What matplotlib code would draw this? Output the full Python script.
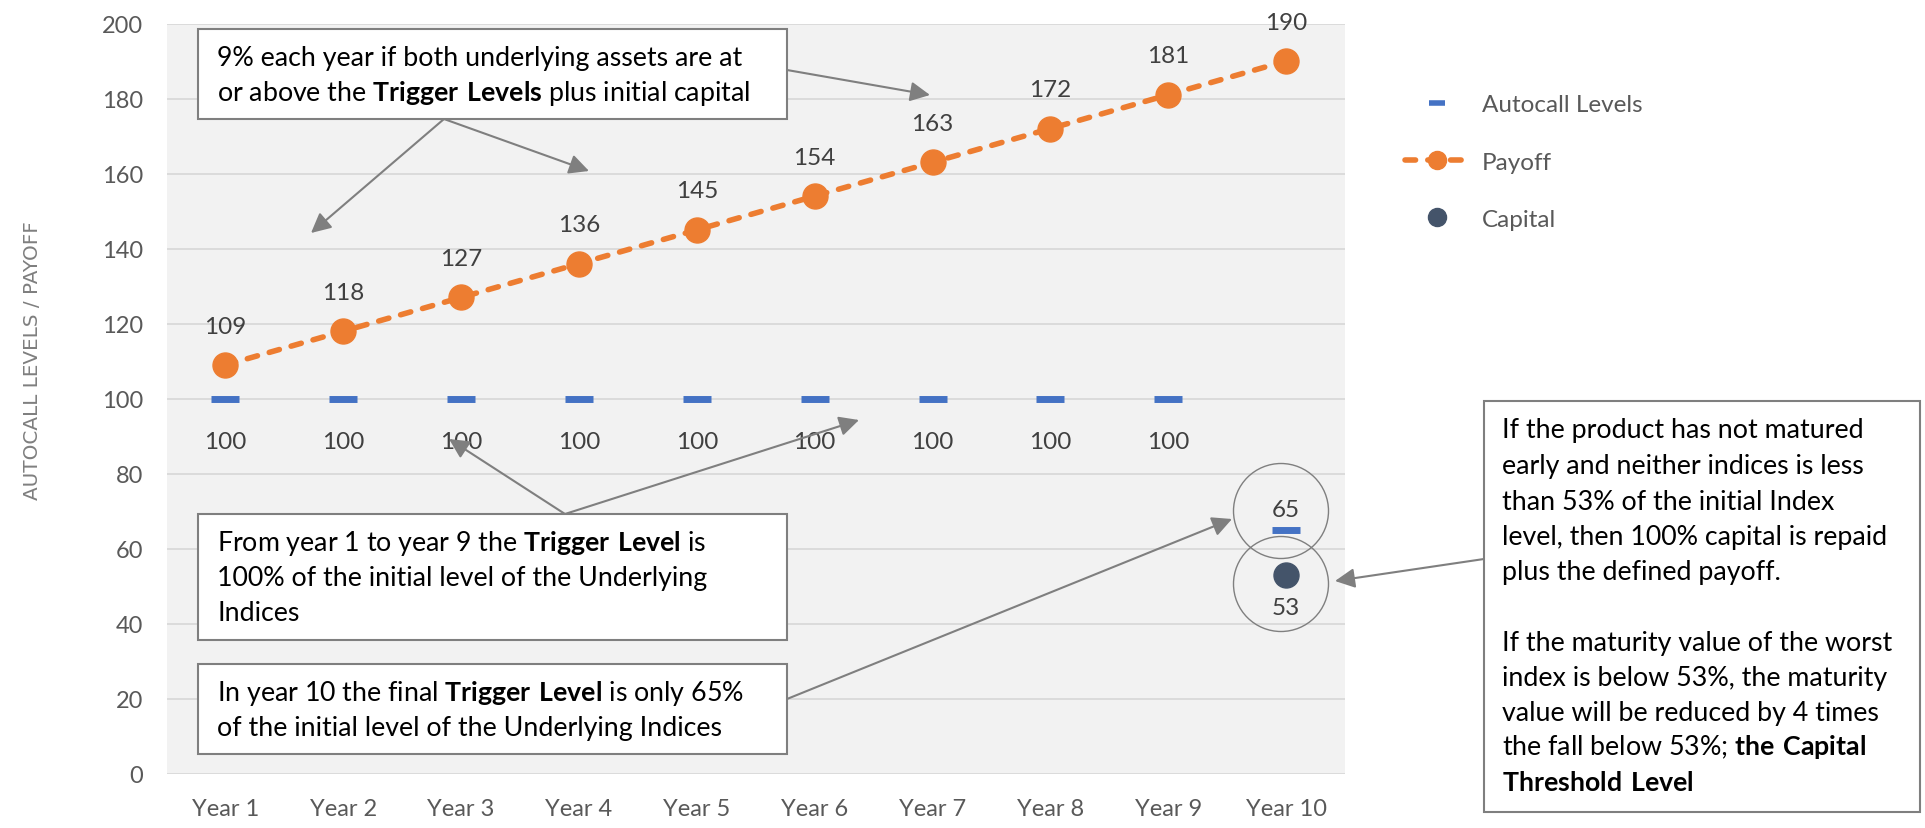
import numpy as np
import matplotlib.pyplot as plt
from matplotlib.patches import Rectangle, Ellipse, FancyArrowPatch

plt.rcParams['font.family'] = ['Lato', 'DejaVu Sans']
plt.rcParams['mathtext.fontset'] = 'custom'
plt.rcParams['mathtext.rm'] = 'Lato'
plt.rcParams['mathtext.bf'] = 'Lato:bold'

# data
years = ["Year 1", "Year 2", "Year 3", "Year 4", "Year 5",
         "Year 6", "Year 7", "Year 8", "Year 9", "Year 10"]
autocall = [100, 100, 100, 100, 100, 100, 100, 100, 100, 65]
payoff = [109, 118, 127, 136, 145, 154, 163, 172, 181, 190]
capital = [np.nan, np.nan, np.nan, np.nan, np.nan, np.nan, np.nan, np.nan, np.nan, 53]

BLUE = '#4472C4'
ORANGE = '#ED7D31'
NAVY = '#44546A'
GREY = '#7F7F7F'
TXT = '#404040'

W, H = 1925, 829


def fp(x, y):
    # pixel position (from top-left) -> figure fraction
    return (x / W, 1 - y / H)


fig = plt.figure(figsize=(W / 100, H / 100), dpi=100)
ax = fig.add_axes([166.5 / W, 1 - 775 / H, (1345 - 166.5) / W, (775 - 24.5) / H])

x = np.arange(len(years))
ax.set_facecolor('#F2F2F2')
ax.set_xlim(-0.5, len(years) - 0.5)
ax.set_ylim(0, 200)
ax.set_yticks(range(0, 201, 20))
ax.set_xticks(x)
ax.set_xticklabels(years)
ax.grid(axis='y', color='#D9D9D9', lw=1.3)
ax.set_axisbelow(True)
for s in ax.spines.values():
    s.set_visible(False)
ax.tick_params(length=0, labelsize=17, colors='#595959')
ax.tick_params(axis='y', pad=17)
ax.tick_params(axis='x', pad=17)

ax.plot(x, autocall, ls='none', marker='_', ms=20, mew=5, color=BLUE,
        label='Autocall Levels', zorder=3)
ax.plot(x, payoff, color=ORANGE, lw=4, ls=(0, (1.9, 2.2)), dash_capstyle='round',
        marker='o', ms=18, label='Payoff', zorder=4)
ax.plot(x, capital, ls='none', marker='o', ms=18, color=NAVY, label='Capital', zorder=4)

for i, v in enumerate(payoff):
    ax.annotate(f'{v}', (i, v), xytext=(0, 28), textcoords='offset points',
                ha='center', va='center', fontsize=17.5, color=TXT)
for i, v in enumerate(autocall):
    dy = 15 if i == len(autocall) - 1 else -31
    ax.annotate(f'{v}', (i, v), xytext=(0, dy), textcoords='offset points',
                ha='center', va='center', fontsize=17.5, color=TXT)
for i, v in enumerate(capital):
    if not np.isnan(v):
        ax.annotate(f'{v:g}', (i, v), xytext=(0, -23), textcoords='offset points',
                    ha='center', va='center', fontsize=17.5, color=TXT)

fig.text(33 / W, 1 - 361 / H, 'AUTOCALL LEVELS / PAYOFF', rotation=90,
         ha='center', va='center', fontsize=14.4, color=GREY, family='DejaVu Sans')

leg = ax.legend(loc='center left', bbox_to_anchor=fp(1405, 163), bbox_transform=fig.transFigure,
                frameon=False, fontsize=17.5, handlelength=2.65, handletextpad=0.5,
                labelspacing=1.5, borderpad=0, borderaxespad=0, labelcolor='#595959')
hs = leg.legend_handles
hs[0].set_markersize(12)
hs[0].set_markeredgewidth(4)
hs[1].set_markersize(13)
hs[2].set_markersize(13)


def box(x0, y0, x1, y1):
    r = Rectangle(fp(x0, y1), (x1 - x0) / W, (y1 - y0) / H, transform=fig.transFigure,
                  fc='white', ec=GREY, lw=1.5, zorder=5)
    fig.add_artist(r)


def lines(x0, ys, texts):
    for y, t in zip(ys, texts):
        if t:
            fig.text(*fp(x0, y + 8), t, fontsize=19.3, color='black', ha='left',
                     va='baseline', zorder=6)


def arrow(a, b):
    p = FancyArrowPatch(fp(*a), fp(*b), transform=fig.transFigure,
                        arrowstyle='-|>,head_length=0.6,head_width=0.3', mutation_scale=20,
                        color=GREY, lw=1.5, shrinkA=0, shrinkB=0, zorder=4)
    fig.add_artist(p)


# callout boxes
box(198, 30, 787, 120)
lines(217, [58, 93], ["9% each year if both underlying assets are at",
                      r"or above the $\mathbf{Trigger\ Levels}$ plus initial capital"])
box(198, 515, 787, 641)
lines(217, [543, 578, 613], [r"From year 1 to year 9 the $\mathbf{Trigger\ Level}$ is",
                             "100% of the initial level of the Underlying",
                             "Indices"])
box(198, 665, 787, 755)
lines(217, [693, 728], [r"In year 10 the final $\mathbf{Trigger\ Level}$ is only 65%",
                        "of the initial level of the Underlying Indices"])
box(1484, 402, 1920, 813)
lines(1502, [430, 466, 502, 537, 572, 607, 643, 678, 713, 747, 783],
      ["If the product has not matured",
       "early and neither indices is less",
       "than 53% of the initial Index",
       "level, then 100% capital is repaid",
       "plus the defined payoff.",
       "",
       "If the maturity value of the worst",
       "index is below 53%, the maturity",
       "value will be reduced by 4 times",
       r"the fall below 53%; $\mathbf{the\ Capital}$",
       r"$\mathbf{Threshold\ Level}$"])

arrow((444, 120), (311, 234))
arrow((444, 120), (589, 172))
arrow((787, 71), (930, 96))
arrow((565, 515), (449, 440))
arrow((565, 515), (859, 421))
arrow((787, 700), (1232, 520))
arrow((1484, 560), (1335, 582))

for cy in [512, 585]:
    e = Ellipse(fp(1281, cy), 95 / W, 95 / H, transform=fig.transFigure,
                fc='none', ec=GREY, lw=1.0, zorder=4)
    fig.add_artist(e)

fig.savefig('out.png', dpi=100)
